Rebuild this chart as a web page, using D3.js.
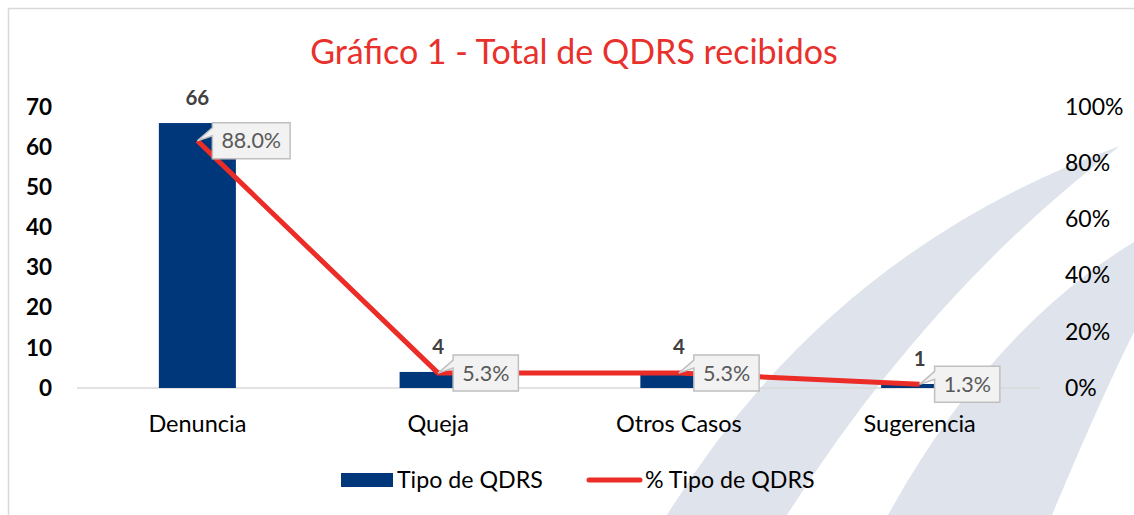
<!DOCTYPE html>
<html>
<head>
<meta charset="utf-8">
<script src="https://cdn.jsdelivr.net/npm/d3@7"></script>
<style>
  body { margin: 0; background: #fff; }
  svg { display: block; font-family: Lato, "Noto Sans", sans-serif; }
</style>
</head>
<body>
<div id="viz"></div>
<script>
var categories = ["Denuncia", "Queja", "Otros Casos", "Sugerencia"];
var counts = [66, 4, 4, 1];
var shares = [0.88, 0.053, 0.053, 0.013];
var leftTicks = [0, 10, 20, 30, 40, 50, 60, 70];
var rightTicks = [0, 0.2, 0.4, 0.6, 0.8, 1];
var seriesNames = ["Tipo de QDRS", "% Tipo de QDRS"];

var w = 1134, h = 515;

var color = {
    "bar": "#00377a",
    "line": "#ec2c26",
    "title": "#e8312c",
    "band": "#dfe3ec",
    "grid": "#d9d9d9"
};

var rows = categories.map(function(c, i) { return { cat: c, count: counts[i], share: shares[i] }; });

var svg = d3.select("#viz")
    .append("svg")
    .attr("width", w)
    .attr("height", h);

var x = d3.scaleBand()
    .domain(categories)
    .range([77, 1040])
    .paddingInner(0.68)
    .paddingOuter(0.34);

var yLeft = d3.scaleLinear().domain([0, 70]).range([388, 107]);
var yRight = d3.scaleLinear().domain([0, 1]).range([388, 107]);

// background swooshes
var bands = svg.append("g").attr("class", "bands");
bands.append("path")
    .attr("fill", color.band)
    .attr("d", "M667,515 Q830,250 1120,146 Q930,290 787,515 Z");
bands.append("path")
    .attr("fill", color.band)
    .attr("d", "M888,515 Q990,330 1134,242 L1134,332 Q1100,400 1052,515 Z");

// chart border
svg.append("rect")
    .attr("x", 8.5)
    .attr("y", 8.5)
    .attr("width", w)
    .attr("height", h)
    .attr("fill", "none")
    .attr("stroke", color.grid)
    .attr("stroke-width", 1.5);

// baseline
svg.append("line")
    .attr("x1", 77).attr("x2", 1040)
    .attr("y1", yLeft(0)).attr("y2", yLeft(0))
    .attr("stroke", color.grid)
    .attr("stroke-width", 1.5);

// bars
svg.append("g").selectAll("rect")
    .data(rows)
    .enter()
    .append("rect")
    .attr("x", function(d) { return x(d.cat); })
    .attr("width", x.bandwidth())
    .attr("y", function(d) { return yLeft(d.count); })
    .attr("height", function(d) { return yLeft(0) - yLeft(d.count); })
    .attr("fill", color.bar);

// bar labels
svg.append("g").selectAll("text")
    .data(rows)
    .enter()
    .append("text")
    .attr("x", function(d) { return x(d.cat) + x.bandwidth() / 2; })
    .attr("y", function(d) { return yLeft(d.count) - 18; })
    .attr("text-anchor", "middle")
    .attr("font-size", 20.5)
    .attr("font-weight", "bold")
    .attr("fill", "#404040")
    .text(function(d) { return d.count; });

// line
var line = d3.line()
    .x(function(d) { return x(d.cat) + x.bandwidth() / 2; })
    .y(function(d) { return yRight(d.share); });

svg.append("path")
    .datum(rows)
    .attr("d", line)
    .attr("fill", "none")
    .attr("stroke", color.line)
    .attr("stroke-width", 5)
    .attr("stroke-linejoin", "round");

// callouts
var fmt = d3.format(".1%");
var callout = svg.append("g").selectAll("g")
    .data(rows)
    .enter()
    .append("g");

callout.each(function(d) {
    var g = d3.select(this);
    var px = x(d.cat) + x.bandwidth() / 2;
    var py = yRight(d.share);
    var left = px + 15, top = py - 18;
    var path = g.append("path");
    var t = g.append("text")
        .attr("x", left + 9)
        .attr("y", py + 7.5)
        .attr("font-size", 21.5)
        .attr("fill", "#595959")
        .text(fmt(d.share));
    var tw = t.node().getComputedTextLength();
    var right = left + tw + 18, bottom = top + 36;
    path.attr("d", "M" + left + "," + top + "H" + right + "V" + bottom + "H" + left +
            "V" + (top + 13) + "L" + px + "," + py + "L" + left + "," + (top + 5) + "Z")
        .attr("fill", "#f2f2f2")
        .attr("stroke", "#bfbfbf")
        .attr("stroke-width", 1.5);
});

// axes
var axisL = svg.append("g")
    .attr("transform", "translate(55,0)")
    .call(d3.axisLeft(yLeft).tickValues(leftTicks).tickSize(0).tickPadding(3));
axisL.select(".domain").remove();
axisL.selectAll("text")
    .attr("font-size", 22.5)
    .attr("font-weight", "bold")
    .attr("font-family", "Lato")
    .attr("fill", "#000");

var axisR = svg.append("g")
    .attr("transform", "translate(1062,0)")
    .call(d3.axisRight(yRight).tickValues(rightTicks).tickSize(0).tickPadding(3).tickFormat(d3.format(".0%")));
axisR.select(".domain").remove();
axisR.selectAll("text")
    .attr("font-size", 23)
    .attr("font-family", "Lato")
    .attr("fill", "#000");

// category labels
svg.append("g").selectAll("text")
    .data(categories)
    .enter()
    .append("text")
    .attr("x", function(d) { return x(d) + x.bandwidth() / 2; })
    .attr("y", 432)
    .attr("text-anchor", "middle")
    .attr("font-size", 23.5)
    .attr("fill", "#000")
    .text(function(d) { return d; });

// legend
var legend = svg.append("g");
legend.append("rect")
    .attr("x", 341).attr("y", 473)
    .attr("width", 52).attr("height", 14)
    .attr("fill", color.bar);
legend.append("text")
    .attr("x", 397).attr("y", 488)
    .attr("font-size", 23.2)
    .text(seriesNames[0]);
legend.append("line")
    .attr("x1", 589).attr("x2", 640)
    .attr("y1", 480).attr("y2", 480)
    .attr("stroke", color.line)
    .attr("stroke-width", 5)
    .attr("stroke-linecap", "round");
legend.append("text")
    .attr("x", 645).attr("y", 488)
    .attr("font-size", 23.2)
    .text(seriesNames[1]);

// title
svg.append("text")
    .attr("x", 574)
    .attr("y", 64)
    .attr("text-anchor", "middle")
    .attr("font-size", 34)
    .attr("fill", color.title)
    .text("Gráfico 1 - Total de QDRS recibidos");
</script>
</body>
</html>
